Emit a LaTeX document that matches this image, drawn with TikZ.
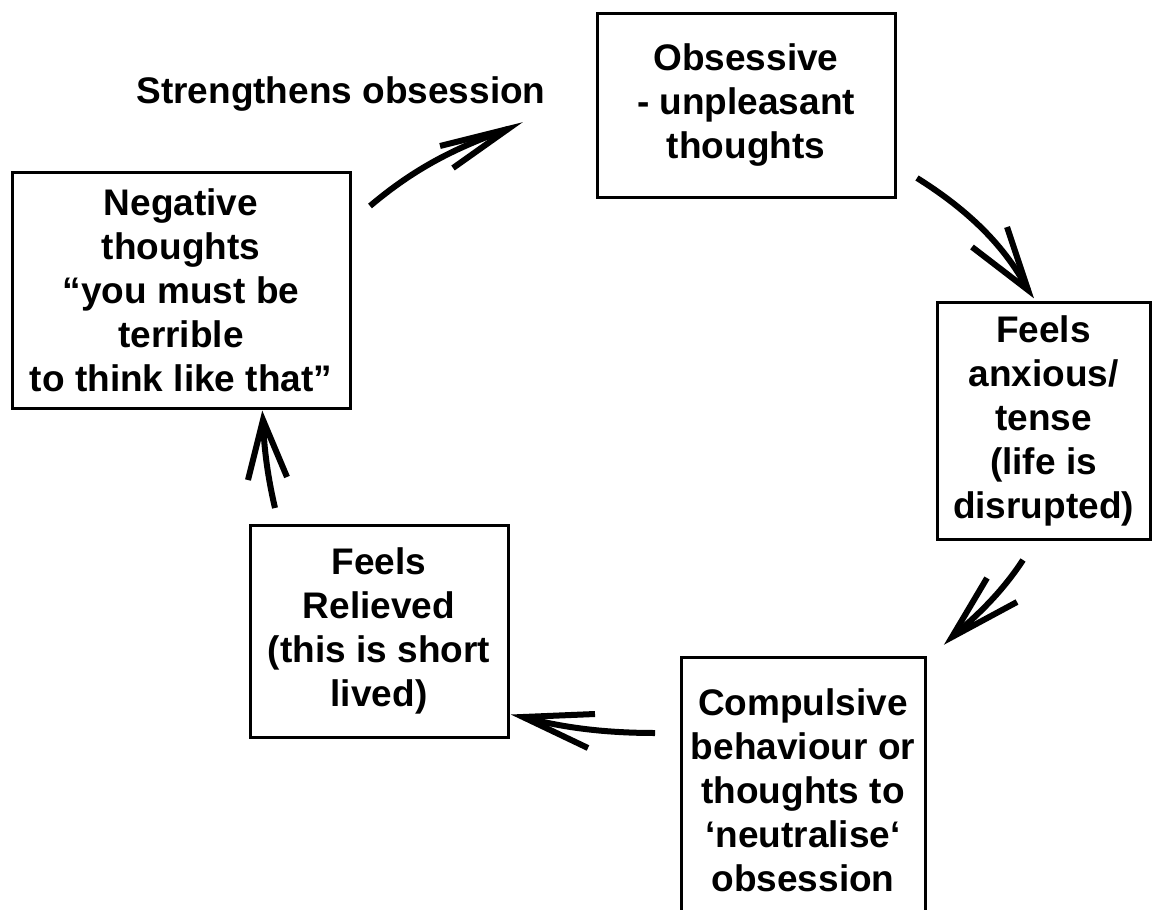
\documentclass[tikz,border=0pt]{standalone}
\usepackage{fontspec}
\setmainfont{Liberation Sans}
\begin{document}
\begin{tikzpicture}[x=1pt,y=-1pt,
  box/.style={draw, line width=3pt, inner sep=0pt, font=\bfseries\fontsize{37}{44}\selectfont, align=center},
  lbl/.style={inner sep=0pt, font=\bfseries\fontsize{37}{44}\selectfont},
  shaft/.style={line width=6pt, line cap=butt},
  head/.style={line width=6pt, line cap=butt, line join=miter, miter limit=20},
]
\useasboundingbox (0,0) rectangle (1162,910);
% boxes
\node[box, minimum width=298pt, minimum height=184pt] (obs) at (746,105) {Obsessive\\- unpleasant\\thoughts};
\node[box, minimum width=338pt, minimum height=236pt] (neg) at (181,290) {Negative\\thoughts\\“you must be\\terrible\\to think like that”};
\node[box, minimum width=213pt, minimum height=237pt] (anx) at (1043.5,420.5) {Feels\\anxious/\\tense\\(life is\\disrupted)};
\node[box, minimum width=258pt, minimum height=212pt] (rel) at (379,631) {Feels\\Relieved\\(this is short\\lived)};
\node[box, minimum width=244pt, minimum height=266pt] (comp) at (803,790) {Compulsive\\behaviour or\\thoughts to\\‘neutralise‘\\obsession};
\node[lbl, anchor=base] (str) at (341,103) {Strengthens obsession};
% arrow 1
\coordinate (a1s) at (370,206); \coordinate (a1t) at (508,129);
\coordinate (a1b1) at (440,146); \coordinate (a1b2) at (453,168);
\draw[shaft] (a1s) .. controls (415,168) and (455,148) .. (a1t);
\draw[head] (a1b1) -- (a1t) -- (a1b2);
% arrow 2
\coordinate (a2s) at (917,178); \coordinate (a2t) at (1028,290);
\coordinate (a2b1) at (1007,227); \coordinate (a2b2) at (972,247);
\draw[shaft] (a2s) .. controls (960,205) and (1002,240) .. (a2t);
\draw[head] (a2b1) -- (a2t) -- (a2b2);
% arrow 3
\coordinate (a3s) at (1023,560); \coordinate (a3t) at (952,637);
\coordinate (a3b1) at (987,578); \coordinate (a3b2) at (1017,602);
\draw[shaft] (a3s) .. controls (1002,592) and (978,615) .. (a3t);
\draw[head] (a3b1) -- (a3t) -- (a3b2);
% arrow 4
\coordinate (a4s) at (655,733); \coordinate (a4t) at (523,717);
\coordinate (a4b1) at (595,714); \coordinate (a4b2) at (588,748);
\draw[shaft] (a4s) .. controls (602,733) and (560,727) .. (a4t);
\draw[head] (a4b1) -- (a4t) -- (a4b2);
% arrow 5
\coordinate (a5s) at (275,508); \coordinate (a5t) at (263,420);
\coordinate (a5b1) at (248,480); \coordinate (a5b2) at (287,477);
\draw[shaft] (a5s) .. controls (268,478) and (264,450) .. (a5t);
\draw[head] (a5b1) -- (a5t) -- (a5b2);
\end{tikzpicture}
\end{document}
